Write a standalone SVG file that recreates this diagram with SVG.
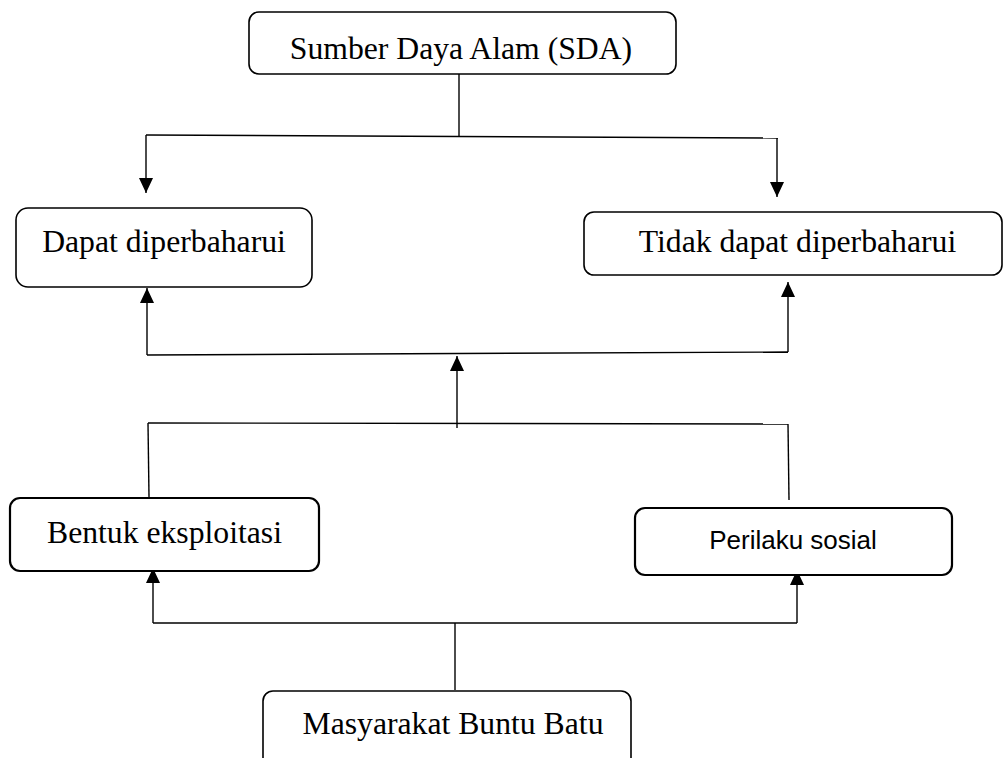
<svg xmlns="http://www.w3.org/2000/svg" width="1003" height="758" viewBox="0 0 1003 758">
<style>
.box{fill:#fff;stroke:#000;stroke-width:1.6}
.thick{stroke-width:2.2}
.t{font-family:"Liberation Serif","Times New Roman",serif;font-size:31.7px;fill:#000;text-anchor:middle}
.s{font-family:"Liberation Sans",Arial,sans-serif;font-size:26px;fill:#000;text-anchor:middle}
.ln{fill:none;stroke:#000;stroke-width:1.4}
</style>
<defs>
<marker id="ah" markerUnits="userSpaceOnUse" markerWidth="15" markerHeight="14" refX="15" refY="7" orient="auto">
<path d="M0,0 L15,7 L0,14 z" fill="#000"/>
</marker>
</defs>
<rect width="1003" height="758" fill="#fff"/>
<g id="connectors">
<line class="ln" x1="459" y1="74" x2="459" y2="136"/>
<line class="ln" x1="146" y1="135" x2="778" y2="138"/>
<line class="ln" x1="146" y1="135" x2="146" y2="193" marker-end="url(#ah)"/>
<line class="ln" x1="777" y1="138" x2="777" y2="197" marker-end="url(#ah)"/>
<line class="ln" x1="147" y1="355" x2="147" y2="288" marker-end="url(#ah)"/>
<line class="ln" x1="147" y1="355" x2="788" y2="352"/>
<line class="ln" x1="788" y1="352" x2="788" y2="282" marker-end="url(#ah)"/>
<line class="ln" x1="457" y1="428" x2="457" y2="356" marker-end="url(#ah)"/>
<line class="ln" x1="148" y1="423" x2="788" y2="424"/>
<line class="ln" x1="148" y1="423" x2="149" y2="497"/>
<line class="ln" x1="788" y1="424" x2="789" y2="500"/>
<line class="ln" x1="153" y1="623" x2="797" y2="623"/>
<line class="ln" x1="153" y1="623" x2="153" y2="568" marker-end="url(#ah)"/>
<line class="ln" x1="797" y1="623" x2="797" y2="570" marker-end="url(#ah)"/>
<line class="ln" x1="455" y1="623" x2="455" y2="690"/>
</g>
<g id="sda">
<rect class="box" x="249" y="12" width="427" height="62" rx="10"/>
<text class="t" x="461" y="59">Sumber Daya Alam (SDA)</text>
</g>
<g id="dapat">
<rect class="box" x="16" y="208" width="296" height="79" rx="12"/>
<text class="t" x="164" y="252">Dapat diperbaharui</text>
</g>
<g id="tidak">
<rect class="box" x="584" y="212" width="418" height="63" rx="10"/>
<text class="t" x="797.5" y="252">Tidak dapat diperbaharui</text>
</g>
<g id="bentuk">
<rect class="box thick" x="10" y="498" width="309" height="73" rx="10"/>
<text class="t" x="164.5" y="543">Bentuk eksploitasi</text>
</g>
<g id="perilaku">
<rect class="box thick" x="635" y="508" width="317" height="67" rx="10"/>
<text class="s" x="793" y="549">Perilaku sosial</text>
</g>
<g id="masyarakat">
<rect class="box" x="263" y="691" width="368" height="80" rx="10"/>
<text class="t" x="453" y="734">Masyarakat Buntu Batu</text>
</g>
</svg>
